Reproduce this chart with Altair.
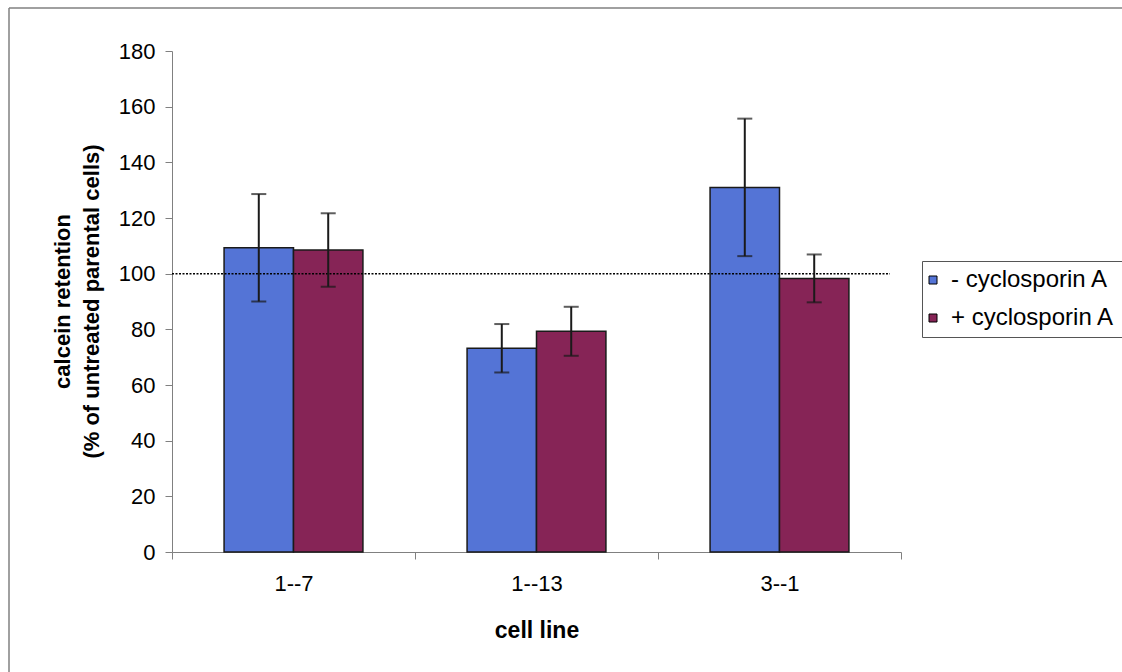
import altair as alt
import pandas as pd

# ---- data ----
cell_lines = ["1--7", "1--13", "3--1"]
treatments = ["- cyclosporin A", "+ cyclosporin A"]
minus_values = [109.3, 73.2, 131.0]
minus_errors = [19.3, 8.7, 24.7]
plus_values = [108.5, 79.3, 98.3]
plus_errors = [13.2, 8.8, 8.6]
y_ticks = [0, 20, 40, 60, 80, 100, 120, 140, 160, 180]
reference_level = [100]
bar_colors = ["#5474d6", "#862456"]

rows = []
for c, v, e in zip(cell_lines, minus_values, minus_errors):
    rows.append({"cell": c, "treatment": treatments[0], "value": v, "err": e})
for c, v, e in zip(cell_lines, plus_values, plus_errors):
    rows.append({"cell": c, "treatment": treatments[1], "value": v, "err": e})
df = pd.DataFrame(rows)

FONT = "Arial, Liberation Sans, sans-serif"

x_enc = alt.X(
    "cell:N",
    sort=cell_lines,
    scale=alt.Scale(paddingInner=0, paddingOuter=0),
    axis=alt.Axis(
        title="cell line",
        labelAngle=0,
        tickBand="extent",
        tickSize=7,
        labelPadding=14,
        labelFontSize=22,
        labelColor="#000000",
        domainColor="#808080",
        tickColor="#808080",
        titleFontSize=23,
        titleFontWeight="bold",
        titleColor="#000000",
        titleY=85,
        titleBaseline="alphabetic",
    ),
)
xo_enc = alt.XOffset(
    "treatment:N",
    sort=treatments,
    scale=alt.Scale(paddingInner=0, paddingOuter=0.75),
)
y_scale = alt.Scale(domain=[0, 180], nice=False)

base = alt.Chart(df).encode(x=x_enc, xOffset=xo_enc)

bars = base.mark_bar(stroke="#1a1a1a", strokeWidth=1.5).encode(
    y=alt.Y(
        "value:Q",
        scale=y_scale,
        axis=alt.Axis(
            title=["calcein retention", "(% of untreated parental cells)"],
            values=y_ticks,
            grid=False,
            tickSize=7,
            labelPadding=10,
            labelFontSize=22,
            labelColor="#000000",
            domainColor="#808080",
            tickColor="#808080",
            titleFontSize=22,
            titleFontWeight="bold",
            titleColor="#000000",
            titleAngle=270,
            titleBaseline="alphabetic",
            titleLineHeight=29,
            titleX=-103,
            titleY=250,
        ),
    ),
    color=alt.Color(
        "treatment:N",
        sort=treatments,
        scale=alt.Scale(domain=treatments, range=bar_colors),
        legend=alt.Legend(
            title=None,
            orient="none",
            legendX=750,
            legendY=210,
            symbolType="square",
            symbolSize=64,
            symbolOffset=-8,
            symbolStrokeColor="#000000",
            symbolStrokeWidth=1,
            labelFontSize=24,
            labelColor="#000000",
            labelOffset=6,
            labelLimit=400,
            padding=7,
            rowPadding=14,
            strokeColor="#555555",
            fillColor="#ffffff",
        ),
    ),
)

err_base = base.transform_calculate(
    lo="datum.value - datum.err", hi="datum.value + datum.err"
)
err_line = err_base.mark_rule(color="#1a1a1a", strokeWidth=2).encode(
    y=alt.Y("lo:Q", scale=y_scale), y2="hi:Q"
)
cap_hi = err_base.mark_tick(color="#1a1a1a", size=15, thickness=2).encode(
    y=alt.Y("hi:Q", scale=y_scale)
)
cap_lo = err_base.mark_tick(color="#1a1a1a", size=15, thickness=2).encode(
    y=alt.Y("lo:Q", scale=y_scale)
)

ref = alt.Chart(pd.DataFrame({"level": reference_level})).mark_rule(
    color="#000000", strokeDash=[2, 1.5], strokeWidth=1.5
).encode(y=alt.Y("level:Q", scale=y_scale), x=alt.value(0), x2=alt.value(718))

frame_df = pd.DataFrame({"k": [0]})
frame_left = alt.Chart(frame_df).mark_rule(color="#808080", strokeWidth=1.5).encode(
    x=alt.value(-163), y=alt.value(-43), y2=alt.value(625)
)
frame_top = alt.Chart(frame_df).mark_rule(color="#808080", strokeWidth=1.5).encode(
    x=alt.value(-163), x2=alt.value(955), y=alt.value(-43)
)

chart = (
    alt.layer(frame_left, frame_top, bars, ref, err_line, cap_hi, cap_lo)
    .properties(
        width=729,
        height=501,
        autosize=alt.AutoSizeParams(type="none"),
        padding={"left": 172, "top": 51, "right": 221, "bottom": 120},
        background="#ffffff",
    )
    .configure(font=FONT)
    .configure_view(stroke=None)
)

chart.save("out.html", embed_options={"renderer": "svg", "actions": False})
